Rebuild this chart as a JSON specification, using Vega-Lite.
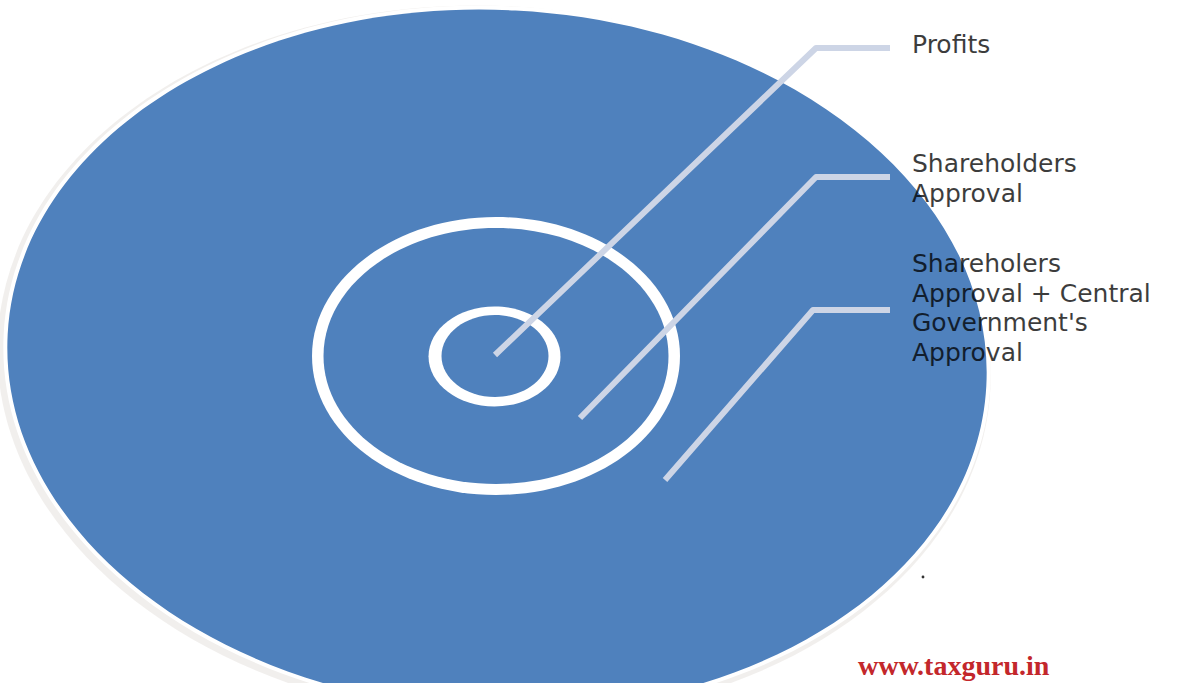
{
  "$schema": "https://vega.github.io/schema/vega-lite/v6.json",
  "width": 1184,
  "height": 683,
  "autosize": {"type": "none"},
  "padding": 0,
  "background": "#ffffff",
  "config": {"view": {"stroke": null}},
  "datasets": {
    "rings": [
      {"ring": "shadow", "x": 494, "y": 363},
      {"ring": "rim", "x": 497, "y": 360},
      {"ring": "outer", "x": 497, "y": 360},
      {"ring": "middle edge", "x": 496, "y": 356},
      {"ring": "middle", "x": 496, "y": 356},
      {"ring": "inner edge", "x": 494.5, "y": 356.4},
      {"ring": "inner", "x": 495, "y": 356}
    ],
    "callouts": [
      {"callout": "Profits", "step": 1, "x": 495, "y": 355},
      {"callout": "Profits", "step": 2, "x": 816, "y": 48},
      {"callout": "Profits", "step": 3, "x": 890, "y": 48},
      {"callout": "Shareholders Approval", "step": 1, "x": 580, "y": 418},
      {"callout": "Shareholders Approval", "step": 2, "x": 816, "y": 177},
      {"callout": "Shareholders Approval", "step": 3, "x": 890, "y": 177},
      {"callout": "Central Government", "step": 1, "x": 665, "y": 480},
      {"callout": "Central Government", "step": 2, "x": 813, "y": 310},
      {"callout": "Central Government", "step": 3, "x": 890, "y": 310}
    ],
    "labels": [
      {"label": ["Profits"], "x": 912, "y": 53},
      {"label": ["Shareholders", "Approval"], "x": 912, "y": 172},
      {"label": ["Shareholers", "Approval + Central", "Government's", "Approval"], "x": 912, "y": 272}
    ],
    "dots": [
      {"x": 923, "y": 577}
    ],
    "notes": [
      {"note": "www.taxguru.in", "x": 858, "y": 675}
    ]
  },
  "encoding": {
    "x": {"field": "x", "type": "quantitative", "scale": {"domain": [0, 1184], "nice": false, "zero": false}, "axis": null},
    "y": {"field": "y", "type": "quantitative", "scale": {"domain": [0, 683], "nice": false, "zero": false, "reverse": true}, "axis": null}
  },
  "layer": [
    {
      "data": {"name": "rings"},
      "transform": [{"filter": "datum.ring === 'shadow'"}],
      "mark": {"type": "point", "filled": true, "fill": "#dcd7d1", "opacity": 0.4, "strokeWidth": 0, "angle": 3,
        "shape": "M -1 0 A 1 0.7183 0 1 0 1 0 A 1 0.7183 0 1 0 -1 0 Z", "size": 988036}
    },
    {
      "data": {"name": "rings"},
      "transform": [{"filter": "datum.ring === 'rim'"}],
      "mark": {"type": "point", "filled": true, "fill": "#ffffff", "opacity": 1, "strokeWidth": 0, "angle": 3,
        "shape": "M -1 0 A 1 0.7166 0 1 0 1 0 A 1 0.7166 0 1 0 -1 0 Z", "size": 976144}
    },
    {
      "data": {"name": "rings"},
      "transform": [{"filter": "datum.ring === 'outer'"}],
      "mark": {"type": "point", "filled": true, "fill": "#4f81bd", "opacity": 1, "strokeWidth": 0, "angle": 3,
        "shape": "M -1 0 A 1 0.7143 0 1 0 1 0 A 1 0.7143 0 1 0 -1 0 Z", "size": 960400}
    },
    {
      "data": {"name": "rings"},
      "transform": [{"filter": "datum.ring === 'middle edge'"}],
      "mark": {"type": "point", "filled": true, "fill": "#ffffff", "opacity": 1, "strokeWidth": 0,
        "shape": "M -1 0 A 1 0.7554 0 1 0 1 0 A 1 0.7554 0 1 0 -1 0 Z", "size": 135424}
    },
    {
      "data": {"name": "rings"},
      "transform": [{"filter": "datum.ring === 'middle'"}],
      "mark": {"type": "point", "filled": true, "fill": "#4f81bd", "opacity": 1, "strokeWidth": 0,
        "shape": "M -1 0 A 1 0.742 0 1 0 1 0 A 1 0.742 0 1 0 -1 0 Z", "size": 119025}
    },
    {
      "data": {"name": "rings"},
      "transform": [{"filter": "datum.ring === 'inner edge'"}],
      "mark": {"type": "point", "filled": true, "fill": "#ffffff", "opacity": 1, "strokeWidth": 0,
        "shape": "M -1 0 A 1 0.7576 0 1 0 1 0 A 1 0.7576 0 1 0 -1 0 Z", "size": 17424}
    },
    {
      "data": {"name": "rings"},
      "transform": [{"filter": "datum.ring === 'inner'"}],
      "mark": {"type": "point", "filled": true, "fill": "#4f81bd", "opacity": 1, "strokeWidth": 0,
        "shape": "M -1 0 A 1 0.7664 0 1 0 1 0 A 1 0.7664 0 1 0 -1 0 Z", "size": 11449}
    },
    {
      "data": {"name": "callouts"},
      "mark": {"type": "line", "stroke": "#cdd5e6", "strokeWidth": 6, "strokeCap": "butt", "strokeJoin": "round", "opacity": 1},
      "encoding": {
        "detail": {"field": "callout", "type": "nominal"},
        "order": {"field": "step", "type": "quantitative"}
      }
    },
    {
      "data": {"name": "labels"},
      "mark": {"type": "text", "align": "left", "baseline": "alphabetic", "font": "DejaVu Sans", "fontSize": 25, "lineHeight": 29.7, "fill": "#000000", "opacity": 0.76},
      "encoding": {
        "text": {"field": "label"}
      }
    },
    {
      "data": {"name": "dots"},
      "mark": {"type": "point", "filled": true, "fill": "#333333", "opacity": 1, "strokeWidth": 0, "shape": "circle", "size": 8}
    },
    {
      "data": {"name": "notes"},
      "mark": {"type": "text", "align": "left", "baseline": "alphabetic", "font": "Liberation Serif", "fontWeight": "bold", "fontSize": 28, "fill": "#c3272b"},
      "encoding": {
        "text": {"field": "note"}
      }
    }
  ]
}
